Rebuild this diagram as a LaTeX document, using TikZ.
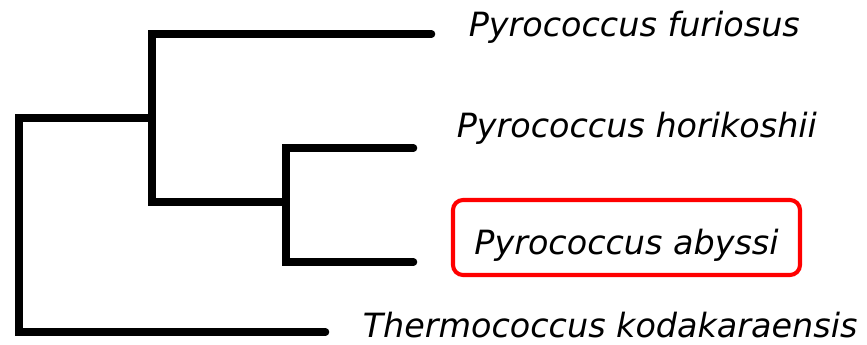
\documentclass[tikz,border=0pt]{standalone}
\usepackage{fontspec}
\setmainfont{DejaVu Sans}
\usepackage{tikz}
\usetikzlibrary{positioning}

\begin{document}
\begin{tikzpicture}[line width=4.3pt, line cap=round,
    every node/.style={inner sep=0pt, font=\itshape\fontsize{19}{23}\selectfont},
    species/.style={anchor=base west},
    picked/.style={draw=red, line width=2.3pt, rounded corners=0.2cm, minimum width=6.94cm, minimum height=1.5cm, text height=0.9cm, text depth=0.2cm}]
        \useasboundingbox (0, 0) rectangle (17.34, 6.9);

        % Nodes
        \coordinate (R) at (0.38, 2.4);
        \coordinate (n1) at (3.04, 4.54);
        \coordinate (n2) at (5.72, 2.86);
        \coordinate (eF) at (8.63, 6.22);
        \coordinate (eH) at (8.27, 3.94);
        \coordinate (eA) at (8.27, 1.66);
        \coordinate (eT) at (6.51, 0.26);

        \node[species] (F) at (9.30, 6.16) {Pyrococcus furiosus};
        \node[species] (H) at (9.06, 4.14) {Pyrococcus horikoshii};
        \node[picked] (A) at (12.53, 2.15) {Pyrococcus abyssi};
        \node[species, text depth=0pt] (T) at (7.18, 0.14) {Thermococcus kodakaraensis};

        % Branches
        \draw (R) |- (n1);
        \draw (R) |- (eT);
        \draw (n1) |- (eF);
        \draw (n1) |- (n2);
        \draw (n2) |- (eH);
        \draw (n2) |- (eA);
    \end{tikzpicture}
\end{document}
